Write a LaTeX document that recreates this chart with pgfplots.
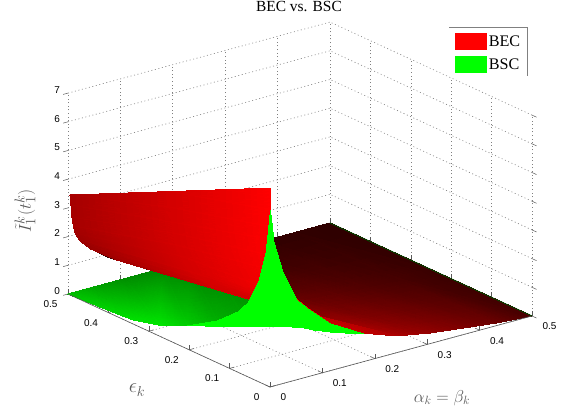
\documentclass[border=0pt]{standalone}
\usepackage{fontspec}
\setmainfont{Liberation Serif}
\newfontfamily\tickfont{Liberation Sans}
\usepackage{pgfplots}
\pgfplotsset{compat=1.18}
\definecolor{axgray}{gray}{0.35}
\definecolor{gridgray}{gray}{0.5}
\begin{document}
\begin{tikzpicture}
\begin{axis}[
  at={(0,0)}, anchor=origin,
  x={(524bp,142bp)}, y={(-404bp,186bp)}, z={(0bp,28.7bp)},
  xmin=0,xmax=0.5,ymin=0,ymax=0.5,zmin=0,zmax=7,
  xtick={0,0.1,0.2,0.3,0.4,0.5},
  ytick={0,0.1,0.2,0.3,0.4,0.5},
  ztick={0,1,2,3,4,5,6,7},
  xticklabels={0,0.1,0.2,0.3,0.4,0.5},
  yticklabels={0,0.1,0.2,0.3,0.4,0.5},
  zticklabels={0,1,2,3,4,5,6,7},
  grid=major,
  grid style={gridgray, line width=0.6bp, dash pattern=on 1bp off 2.6bp},
  axis line style={draw=none},
  tick style={axgray, line width=0.5bp},
  major tick length=5bp,
  tickpos=left,
  ztick align=outside,
  x tick label style={font=\tickfont\fontsize{10}{11}\selectfont, anchor=west, xshift=7bp, yshift=-10.5bp},
  y tick label style={font=\tickfont\fontsize{10}{11}\selectfont, anchor=east, xshift=-7bp, yshift=-10bp},
  z tick label style={font=\tickfont\fontsize{10}{11}\selectfont, anchor=east, xshift=0bp, yshift=1bp},
  clip=false,
  title={BEC vs. BSC},
  title style={at={(axis cs:1.029,1.263,0)}, anchor=center, yshift=-7bp, font=\fontsize{15.5}{17}\selectfont},
  xlabel={$\alpha_k=\beta_k$},
  xlabel style={at={(axis cs:0.178,-0.195,0)}, anchor=center, rotate=0, color=axgray, font=\fontsize{18}{20}\selectfont, sloped=false},
  ylabel={$\epsilon_k$},
  ylabel style={at={(axis cs:-0.1624,0.1186,0)}, anchor=center, rotate=0, yshift=-2bp, color=axgray, font=\fontsize{22.5}{24}\selectfont, sloped=false},
  zlabel={$\tilde{I}_1^k(t_1^k)$},
  zlabel style={at={(axis cs:0.1727,0.8305,0)}, anchor=center, rotate=0, xshift=-3bp, color=axgray, font=\fontsize{19}{21}\selectfont},
  legend style={at={(axis cs:1.150,1.0419,0)}, anchor=north west, draw=none, fill=none, font=\fontsize{16.2}{17}\selectfont, row sep=6bp, inner sep=3bp, /tikz/every even column/.append style={column sep=4bp}},
  legend cell align=left,
]
\addlegendimage{area legend, fill=red, draw=none, legend image code/.code={\fill[red] (0cm,-8.5bp) rectangle (32bp,8.5bp);}}
\addlegendentry{BEC}
\addlegendimage{area legend, fill=green, draw=none, legend image code/.code={\fill[green] (0cm,-8.5bp) rectangle (32bp,8.5bp);}}
\addlegendentry{BSC}

% red surface, flat part
\addplot3[forget plot, surf, shader=interp, mesh/color input=explicit, mesh/rows=11, mesh/cols=3, z buffer=sort] table[x=a,y=e,z=z,meta=c]{
a e z c
0.0063 0 5.09 rgb=0.9,0,0
0.0063 0.25 3.70 rgb=0.5,0,0
0.0063 0.5 2.70 rgb=0.2,0,0
0.0248 0 3.85 rgb=0.9,0,0
0.0248 0.25 2.80 rgb=0.5,0,0
0.0248 0.5 1.75 rgb=0.2,0,0
0.0515 0 2.78 rgb=0.85,0,0
0.0515 0.25 2.00 rgb=0.5,0,0
0.0515 0.5 1.25 rgb=0.2,0,0
0.0763 0 2.31 rgb=0.82,0,0
0.0763 0.25 1.60 rgb=0.48,0,0
0.0763 0.5 0.90 rgb=0.2,0,0
0.1145 0 1.66 rgb=0.8,0,0
0.1145 0.25 1.08 rgb=0.46,0,0
0.1145 0.5 0.50 rgb=0.2,0,0
0.1775 0 1.00 rgb=0.76,0,0
0.1775 0.25 0.50 rgb=0.44,0,0
0.1775 0.5 0.00 rgb=0.2,0,0
0.2424 0 0.58 rgb=0.68,0,0
0.2424 0.25 0.28 rgb=0.4,0,0
0.2424 0.5 0.00 rgb=0.2,0,0
0.3053 0 0.37 rgb=0.58,0,0
0.3053 0.25 0.18 rgb=0.36,0,0
0.3053 0.5 0.00 rgb=0.2,0,0
0.3683 0 0.23 rgb=0.5,0,0
0.3683 0.25 0.11 rgb=0.31,0,0
0.3683 0.5 0.00 rgb=0.2,0,0
0.4332 0 0.09 rgb=0.42,0,0
0.4332 0.25 0.04 rgb=0.27,0,0
0.4332 0.5 0.00 rgb=0.19,0,0
0.5 0 0.00 rgb=0.28,0,0
0.5 0.25 0.00 rgb=0.22,0,0
0.5 0.5 0.00 rgb=0.18,0,0
};
% green surface, flat part behind the spike
\addplot3[forget plot, surf, shader=interp, mesh/color input=explicit, mesh/rows=8, mesh/cols=2, z buffer=sort] table[x=a,y=e,z=z,meta=c]{
a e z c
0 0.5 0 rgb=0,0.75,0
0 0.5 0 rgb=0,0.75,0
0 0.42 0.06 rgb=0,0.82,0
0.0515 0.5 0 rgb=0,0.64,0
0 0.339 0.14 rgb=0,0.88,0
0.1088 0.5 0 rgb=0,0.56,0
0 0.272 0.39 rgb=0,0.9,0
0.1813 0.5 0 rgb=0,0.53,0
0 0.205 0.83 rgb=0,0.8,0
0.2144 0.476 0 rgb=0,0.52,0
0 0.131 1.48 rgb=0,0.68,0
0.234 0.4396 0 rgb=0,0.52,0
0 0.0743 2.2 rgb=0,0.62,0
0.2372 0.394 0 rgb=0,0.52,0
0 0.0446 2.81 rgb=0,0.58,0
0.2263 0.338 0 rgb=0,0.52,0
};
% red surface, steep part
\addplot3[forget plot, surf, shader=interp, mesh/color input=explicit, mesh/rows=11, mesh/cols=3, z buffer=sort] table[x=a,y=e,z=z,meta=c]{
a e z c
0 0 6.93 rgb=1,0,0
0.0019 0.25 5.18 rgb=0.83,0,0
0.0038 0.5 3.43 rgb=0.65,0,0
0.0013 0 6.16 rgb=1,0,0
0.0035 0.25 4.615 rgb=0.83,0,0
0.0057 0.5 3.07 rgb=0.65,0,0
0.0032 0 5.56 rgb=1,0,0
0.0054 0.25 4.10 rgb=0.83,0,0
0.0076 0.5 2.64 rgb=0.65,0,0
0.0063 0 5.09 rgb=1,0,0
0.0084 0.25 3.705 rgb=0.83,0,0
0.0105 0.5 2.32 rgb=0.65,0,0
0.0128 0 4.47 rgb=1,0,0
0.0131 0.25 3.265 rgb=0.83,0,0
0.0134 0.5 2.06 rgb=0.63,0,0
0.0248 0 3.85 rgb=1,0,0
0.0229 0.25 2.83 rgb=0.83,0,0
0.021 0.5 1.81 rgb=0.62,0,0
0.0515 0 2.78 rgb=1,0,0
0.04 0.25 2.205 rgb=0.83,0,0
0.0286 0.5 1.63 rgb=0.6,0,0
0.0763 0 2.31 rgb=0.95,0,0
0.0601 0.25 1.83 rgb=0.83,0,0
0.0439 0.5 1.35 rgb=0.6,0,0
0.1145 0 1.66 rgb=0.85,0,0
0.0878 0.25 1.395 rgb=0.83,0,0
0.0611 0.5 1.13 rgb=0.6,0,0
0.1775 0 1.00 rgb=0.76,0,0
0.1355 0.25 0.86 rgb=0.85,0,0
0.0935 0.5 0.72 rgb=0.62,0,0
0.2424 0 0.58 rgb=0.68,0,0
0.212 0.25 0.12 rgb=0.88,0,0
0.1813 0.5 0.00 rgb=0.7,0,0
};
% green surface, spike
\addplot3[forget plot, surf, shader=interp, mesh/color input=explicit, mesh/rows=14, mesh/cols=2, z buffer=sort] table[x=a,y=e,z=z,meta=c]{
a e z c
0 0.205 0.83 rgb=0,1,0
0 0.205 0.83 rgb=0,1,0
0 0.131 1.48 rgb=0,1,0
0.018 0.1842 0.83 rgb=0,1,0
0 0.0743 2.2 rgb=0,1,0
0.0351 0.1644 0.886 rgb=0,1,0
0 0.0446 2.81 rgb=0,1,0
0.0493 0.1481 0.92 rgb=0,1,0
0 0.0248 3.67 rgb=0,1,0
0.0604 0.1353 0.95 rgb=0,1,0
0 0.0074 4.83 rgb=0,1,0
0.0715 0.1224 0.978 rgb=0,1,0
0 0 6.17 rgb=0,1,0
0.0836 0.1084 1.01 rgb=0,1,0
0.0032 0 5.56 rgb=0,1,0
0.0957 0.0944 1.04 rgb=0,1,0
0.0063 0 5.09 rgb=0,1,0
0.1058 0.0828 1.048 rgb=0,1,0
0.0248 0 3.85 rgb=0,1,0
0.1139 0.0735 1.05 rgb=0,1,0
0.0515 0 2.78 rgb=0,1,0
0.127 0.0583 0.98 rgb=0,1,0
0.0763 0 2.31 rgb=0,1,0
0.1442 0.0385 0.953 rgb=0,1,0
0.1145 0 1.66 rgb=0,1,0
0.1593 0.021 0.958 rgb=0,1,0
0.1775 0 1.00 rgb=0,1,0
0.1775 0 1.00 rgb=0,1,0
};
% axis lines on the floor
\addplot3[forget plot, axgray, line width=0.6bp] coordinates {(0,0,0) (0.5,0,0)};
\addplot3[forget plot, axgray, line width=0.6bp] coordinates {(0,0,0) (0,0.5,0)};
\addplot3[forget plot, green!30!black, line width=0.8bp] coordinates {(0.5,0,0) (0.5,0.5,0)};
\coordinate (O) at (axis cs:0,0,0);
\end{axis}
\draw[gray, line width=0.7bp] ([shift={(179bp,360bp)}]O) -- ([shift={(257bp,360bp)}]O) -- ([shift={(257bp,311bp)}]O);
\pgfresetboundingbox
\path[use as bounding box] ([shift={(-270bp,-29bp)}]O) rectangle ([shift={(299bp,387bp)}]O);
\end{tikzpicture}
\end{document}
